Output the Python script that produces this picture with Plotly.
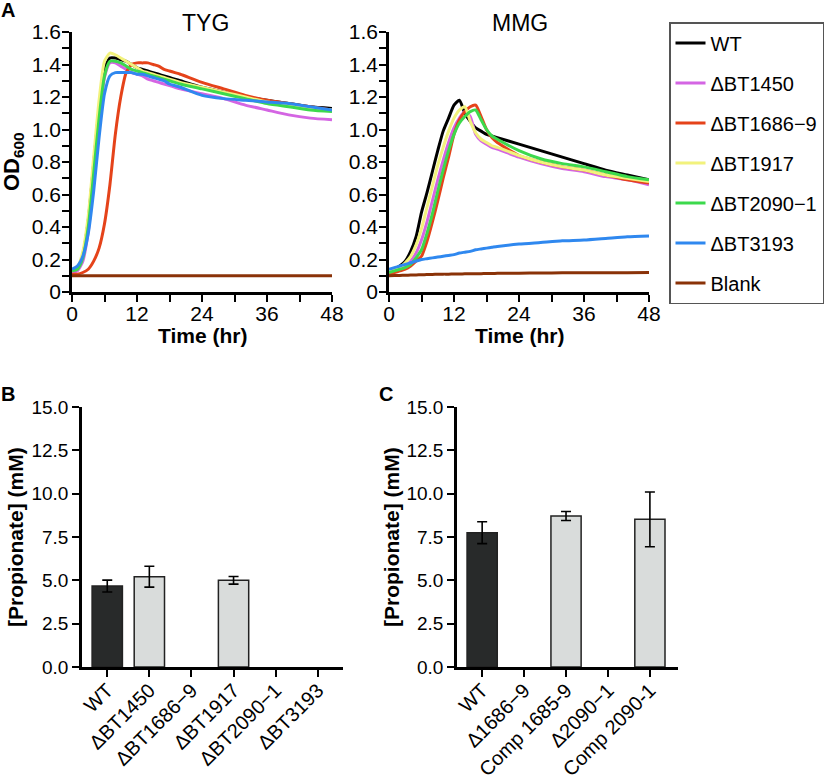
import plotly.graph_objects as go

# ---------------- data ----------------
TIME_HR = [0, 1, 2, 3, 4, 5, 6, 7, 8, 9, 10, 11, 12, 13, 14, 15, 16, 17, 18, 19, 20,
           24, 28, 32, 36, 40, 44, 48]

SERIES = ["WT", "ΔBT1450", "ΔBT1686−9", "ΔBT1917", "ΔBT2090−1", "ΔBT3193", "Blank"]
COLORS = ["#000000", "#d465e3", "#e5431a", "#f2f27c", "#3cd94c", "#2f88ef", "#8a3208"]

TYG_WT = [0.13, 0.15, 0.23, 0.44, 0.79, 1.13, 1.37, 1.44, 1.44, 1.43, 1.42, 1.40, 1.38, 1.37, 1.36,
          1.35, 1.34, 1.33, 1.32, 1.31, 1.30, 1.26, 1.23, 1.20, 1.18, 1.16, 1.14, 1.13]
TYG_1450 = [0.12, 0.13, 0.19, 0.37, 0.70, 1.04, 1.32, 1.41, 1.41, 1.39, 1.37, 1.35, 1.34, 1.33, 1.31,
            1.30, 1.29, 1.28, 1.27, 1.26, 1.25, 1.22, 1.19, 1.15, 1.12, 1.09, 1.07, 1.06]
TYG_1686 = [0.11, 0.11, 0.12, 0.14, 0.19, 0.27, 0.42, 0.66, 0.97, 1.20, 1.35, 1.40, 1.41, 1.41, 1.41,
            1.40, 1.39, 1.37, 1.36, 1.35, 1.34, 1.29, 1.25, 1.21, 1.18, 1.16, 1.14, 1.12]
TYG_1917 = [0.13, 0.15, 0.25, 0.47, 0.83, 1.18, 1.42, 1.47, 1.46, 1.44, 1.42, 1.40, 1.38, 1.36, 1.35,
            1.34, 1.33, 1.32, 1.31, 1.30, 1.29, 1.26, 1.23, 1.20, 1.17, 1.15, 1.13, 1.12]
TYG_2090 = [0.13, 0.14, 0.21, 0.40, 0.73, 1.07, 1.33, 1.42, 1.42, 1.41, 1.39, 1.37, 1.36, 1.35, 1.34,
            1.33, 1.32, 1.31, 1.30, 1.29, 1.28, 1.25, 1.22, 1.19, 1.16, 1.14, 1.12, 1.11]
TYG_3193 = [0.14, 0.16, 0.22, 0.36, 0.62, 0.95, 1.22, 1.33, 1.35, 1.35, 1.35, 1.35, 1.34, 1.34, 1.33,
            1.32, 1.31, 1.30, 1.28, 1.27, 1.26, 1.21, 1.19, 1.18, 1.17, 1.16, 1.14, 1.12]
TYG_BLANK = [0.10, 0.10, 0.10, 0.10, 0.10, 0.10, 0.10, 0.10, 0.10, 0.10, 0.10, 0.10, 0.10, 0.10, 0.10,
             0.10, 0.10, 0.10, 0.10, 0.10, 0.10, 0.10, 0.10, 0.10, 0.10, 0.10, 0.10, 0.10]

MMG_WT = [0.13, 0.14, 0.16, 0.19, 0.25, 0.34, 0.49, 0.61, 0.74, 0.87, 0.99, 1.07, 1.15, 1.18, 1.10,
          1.05, 1.01, 0.99, 0.97, 0.96, 0.95, 0.91, 0.87, 0.83, 0.79, 0.75, 0.72, 0.69]
MMG_1450 = [0.12, 0.13, 0.14, 0.16, 0.19, 0.24, 0.32, 0.43, 0.56, 0.69, 0.81, 0.92, 1.01, 1.07, 1.11,
            1.08, 0.97, 0.93, 0.91, 0.89, 0.88, 0.83, 0.79, 0.76, 0.74, 0.71, 0.69, 0.66]
MMG_1686 = [0.11, 0.12, 0.13, 0.14, 0.16, 0.19, 0.22, 0.31, 0.43, 0.56, 0.70, 0.83, 0.97, 1.06, 1.11,
            1.14, 1.15, 1.08, 1.00, 0.95, 0.92, 0.84, 0.80, 0.77, 0.75, 0.72, 0.69, 0.67]
MMG_1917 = [0.13, 0.14, 0.15, 0.18, 0.22, 0.29, 0.39, 0.52, 0.65, 0.78, 0.89, 0.99, 1.07, 1.12, 1.14,
            1.05, 0.98, 0.94, 0.92, 0.90, 0.89, 0.84, 0.80, 0.77, 0.75, 0.72, 0.70, 0.68]
MMG_2090 = [0.12, 0.13, 0.14, 0.15, 0.17, 0.21, 0.26, 0.36, 0.48, 0.62, 0.75, 0.87, 0.97, 1.04, 1.08,
            1.11, 1.12, 1.06, 1.00, 0.96, 0.94, 0.87, 0.82, 0.79, 0.77, 0.74, 0.71, 0.69]
MMG_3193 = [0.14, 0.15, 0.16, 0.17, 0.18, 0.19, 0.20, 0.205, 0.21, 0.215, 0.22, 0.225, 0.23, 0.24, 0.245,
            0.25, 0.26, 0.265, 0.27, 0.275, 0.28, 0.295, 0.305, 0.315, 0.32, 0.33, 0.34, 0.345]
MMG_BLANK = [0.100, 0.101, 0.102, 0.103, 0.104, 0.105, 0.106, 0.107, 0.108, 0.109, 0.110, 0.110, 0.111, 0.111, 0.112,
             0.112, 0.113, 0.113, 0.114, 0.114, 0.115, 0.116, 0.117, 0.118, 0.118, 0.119, 0.119, 0.120]

TYG = [TYG_WT, TYG_1450, TYG_1686, TYG_1917, TYG_2090, TYG_3193, TYG_BLANK]
MMG = [MMG_WT, MMG_1450, MMG_1686, MMG_1917, MMG_2090, MMG_3193, MMG_BLANK]

OD_TICKS = [0, 0.2, 0.4, 0.6, 0.8, 1.0, 1.2, 1.4, 1.6]
OD_TICK_LABELS = ["0", "0.2", "0.4", "0.6", "0.8", "1.0", "1.2", "1.4", "1.6"]

B_STRAINS = ["WT", "ΔBT1450", "ΔBT1686−9", "ΔBT1917", "ΔBT2090−1", "ΔBT3193"]
B_PROP = [4.67, 5.21, 0, 5.0, 0, 0]
B_ERR = [0.34, 0.60, 0, 0.22, 0, 0]

C_STRAINS = ["WT", "Δ1686−9", "Comp 1685-9", "Δ2090−1", "Comp 2090-1"]
C_PROP = [7.75, 0, 8.71, 0, 8.52]
C_ERR = [0.63, 0, 0.26, 0, 1.58]

DARK = "#282a2a"
LIGHT = "#d9dcdb"

W, H = 831, 775


def dx(a, b):
    return [a / W, b / W]


def dy(top, bottom):
    return [1 - bottom / H, 1 - top / H]


def nz(vals):
    # zero-height bars (not detected) are not drawn
    return [v if v > 0 else None for v in vals]


fig = go.Figure()

for i, name in enumerate(SERIES):
    fig.add_trace(go.Scatter(
        x=TIME_HR, y=TYG[i], mode="lines", name=name, legendgroup=name,
        line=dict(color=COLORS[i], width=3, shape="spline", smoothing=0.6),
        xaxis="x", yaxis="y", showlegend=True))
for i, name in enumerate(SERIES):
    fig.add_trace(go.Scatter(
        x=TIME_HR, y=MMG[i], mode="lines", name=name, legendgroup=name,
        line=dict(color=COLORS[i], width=3, shape="spline", smoothing=0.6),
        xaxis="x2", yaxis="y2", showlegend=False))

fig.add_trace(go.Bar(
    x=B_STRAINS, y=nz(B_PROP), width=0.72,
    marker=dict(color=[DARK] + [LIGHT] * (len(B_STRAINS) - 1),
                line=dict(color="#222222", width=1.5)),
    error_y=dict(type="data", array=B_ERR, color="black", thickness=1.6, width=5),
    xaxis="x3", yaxis="y3", showlegend=False))

fig.add_trace(go.Bar(
    x=C_STRAINS, y=nz(C_PROP), width=0.72,
    marker=dict(color=[DARK] + [LIGHT] * (len(C_STRAINS) - 1),
                line=dict(color="#222222", width=1.5)),
    error_y=dict(type="data", array=C_ERR, color="black", thickness=1.6, width=5),
    xaxis="x4", yaxis="y4", showlegend=False))

axis_common = dict(showline=True, linecolor="black", linewidth=2.5, ticks="outside",
                   ticklen=7, tickwidth=2, tickcolor="black", showgrid=False,
                   zeroline=False, automargin=False)
tick_font_a = dict(size=21, color="black")
tick_font_b = dict(size=19, color="black")
tick_font_bx = dict(size=20, color="black")

minor_x = dict(ticks="outside", tick0=0, dtick=6, ticklen=7, tickwidth=2, tickcolor="black", showgrid=False)
minor_y = dict(ticks="outside", tick0=0, dtick=0.1, ticklen=7, tickwidth=2, tickcolor="black", showgrid=False)

fig.update_layout(
    width=W, height=H,
    margin=dict(l=0, r=0, t=0, b=0, autoexpand=False),
    paper_bgcolor="white", plot_bgcolor="white",
    font=dict(family="Liberation Sans, Arial, sans-serif", color="black"),
    xaxis=dict(axis_common, domain=dx(72, 332), anchor="y", range=[0, 48], tick0=0, dtick=12,
               minor=minor_x, tickfont=tick_font_a, ticklabelstandoff=-6),
    yaxis=dict(axis_common, domain=dy(32, 292), anchor="x", range=[0, 1.6],
               tickvals=OD_TICKS, ticktext=OD_TICK_LABELS, minor=minor_y, tickfont=tick_font_a,
               ticklabelstandoff=-3),
    xaxis2=dict(axis_common, domain=dx(389, 649), anchor="y2", range=[0, 48], tick0=0, dtick=12,
                minor=minor_x, tickfont=tick_font_a, ticklabelstandoff=-6),
    yaxis2=dict(axis_common, domain=dy(32, 292), anchor="x2", range=[0, 1.6],
                tickvals=OD_TICKS, ticktext=OD_TICK_LABELS, minor=minor_y, tickfont=tick_font_a,
                ticklabelstandoff=-3),
    xaxis3=dict(axis_common, domain=dx(82, 343), anchor="y3", range=[-0.6, 5.6],
                tickangle=-45, tickfont=tick_font_bx, ticklabelstandoff=-6),
    yaxis3=dict(axis_common, domain=dy(407, 667), anchor="x3", range=[0, 15], dtick=2.5,
                tickformat=".1f", tickfont=tick_font_b),
    xaxis4=dict(axis_common, domain=dx(457, 678), anchor="y4", range=[-0.6, 4.67],
                tickangle=-45, tickfont=tick_font_bx, ticklabelstandoff=-6),
    yaxis4=dict(axis_common, domain=dy(407, 667), anchor="x4", range=[0, 15], dtick=2.5,
                tickformat=".1f", tickfont=tick_font_b),
    legend=dict(x=669 / W, y=1 - 22 / H, xanchor="left", yanchor="top",
                bgcolor="white", bordercolor="#555555", borderwidth=1.5,
                font=dict(size=20, color="black"), tracegroupgap=11, itemwidth=30,
                traceorder="grouped"),
    bargap=0.3,
)

ann = []


def add_text(text, x, y, size, bold=False, angle=0):
    ann.append(dict(text=f"<b>{text}</b>" if bold else text, x=x / W, y=1 - y / H,
                    xref="paper", yref="paper", showarrow=False, textangle=angle,
                    font=dict(size=size, color="black"), xanchor="center", yanchor="middle"))


add_text("A", 8, 10, 20, bold=True)
add_text("B", 8, 394, 20, bold=True)
add_text("C", 386, 394, 20, bold=True)
add_text("TYG", 205, 23, 23)
add_text("MMG", 520, 23, 23)
add_text("OD<sub>600</sub>", 13, 162, 22, bold=True, angle=-90)
add_text("Time (hr)", 202, 335, 21, bold=True)
add_text("Time (hr)", 519, 335, 21, bold=True)
add_text("[Propionate] (mM)", 15, 537, 21, bold=True, angle=-90)
add_text("[Propionate] (mM)", 391, 537, 21, bold=True, angle=-90)
fig.update_layout(annotations=ann)

fig.write_html("out.html", post_script="document.body.style.margin='0';",
               config={"displayModeBar": False})
